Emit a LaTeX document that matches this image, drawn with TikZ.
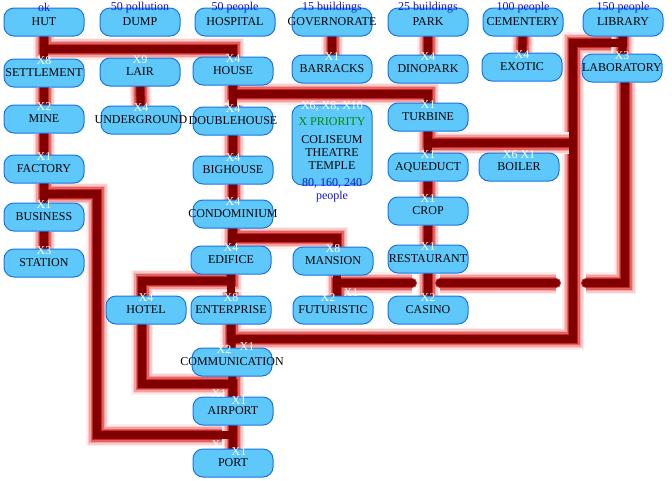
\documentclass[tikz,border=0pt]{standalone}
\usepackage{fontspec}
\setmainfont{Liberation Serif}
\usetikzlibrary{backgrounds}
\definecolor{boxfill}{RGB}{95,200,250}
\definecolor{boxline}{RGB}{25,115,230}
\definecolor{wire}{RGB}{128,0,0}
\definecolor{haloa}{RGB}{255,236,236}
\definecolor{halob}{RGB}{250,205,205}
\definecolor{haloc}{RGB}{242,160,160}
\definecolor{halod}{RGB}{228,100,100}
\definecolor{haloe}{RGB}{200,40,40}
\definecolor{note}{RGB}{20,20,205}
\definecolor{prio}{RGB}{0,140,0}

\newcommand\wide[1]{\makebox[0pt]{#1}}
% all connectors, drawn once as halo and once as core
\newcommand\wires[1]{%
  \draw[#1] (hut) -- (settlement);
  \draw[#1] (hut.south) -- ++(0,12) -| (house.north);
  \draw[#1] (settlement) -- (mine);
  \draw[#1] (mine) -- (factory);
  \draw[#1] (factory) -- (business);
  \draw[#1] (business) -- (station);
  \draw[#1] (factory.south) -- ++(0,10) -| (portbend) -| (port.north);
  \draw[#1] (lair) -- (underground);
  \draw[#1] (house) -- (doublehouse);
  \draw[#1] (house.south) -- ++(0,8) -| (turbine.north);
  \draw[#1] (doublehouse) -- (bighouse);
  \draw[#1] (bighouse) -- (condominium);
  \draw[#1] (condominium) -- (edifice);
  \draw[#1] (condominium.south) -- ++(0,9) -| ([xshift=4pt]mansion.north);
  \draw[#1] (edifice) -- (enterprise);
  \draw[#1] (edifice.south) -- ++(0,6) -| ([xshift=-4pt]hotel.north);
  \draw[#1] (enterprise) -- (communication);
  \draw[#1] (enterprise.south) -- ++(0,14) -| (libbend) -| (library.south);
  \draw[#1] (communication) -- (airport);
  \draw[#1] (airport) -- (port);
  \draw[#1] ([xshift=-4pt]hotel.south) -- ++(0,59) -| (airport.north);
  \draw[#1] (library) -- (laboratory);
  \draw[#1] (governorate) -- (barracks);
  \draw[#1] (park) -- (dinopark);
  \draw[#1] (cementery) -- (exotic);
  \draw[#1] (turbine) -- (aqueduct);
  \draw[#1] (turbine.south) |- (turbinejoin);
  \draw[#1] (aqueduct) -- (crop);
  \draw[#1] (crop) -- (restaurant);
  \draw[#1] (restaurant) -- (casino);
  \draw[#1] ([xshift=4pt]mansion.south) -- ([xshift=4pt]futuristic.north);
  \draw[#1] ([xshift=3pt]laboratory.south) |- (jumpa);
  \draw[#1] (jumpb) -- (jumpc);
  \draw[#1] (jumpd) -| ([xshift=4pt]futuristic.north);
}

\begin{document}
\begin{tikzpicture}[x=1pt, y=-1pt,
  every node/.style={font=\fontsize{12}{13}\selectfont},
  bld/.style={rectangle, rounded corners=10pt, draw=boxline, line width=1pt,
              fill=boxfill, minimum width=80pt, minimum height=28pt, inner sep=0pt},
  cnt/.style={text=white, anchor=center, yshift=-2pt, inner sep=0pt},
  req/.style={text=note, anchor=center, inner sep=0pt},
  halo/.style={line cap=round,
               preaction={draw=haloa, line width=22pt},
               preaction={draw=halob, line width=19pt},
               preaction={draw=haloc, line width=16pt},
               preaction={draw=halod, line width=13pt},
               draw=haloe, line width=10pt},
  core/.style={line cap=round, draw=wire, line width=8pt},
]
\useasboundingbox (0,0) rectangle (672,480);

% top row
\node[bld, label={[req]north:ok}]           (hut)         at (44,22)  {HUT};
\node[bld, label={[req]north:50 pollution}] (dump)        at (140,22) {DUMP};
\node[bld, label={[req]north:50 people}]    (hospital)    at (235,22) {HOSPITAL};
\node[bld, label={[req]north:15 buildings}] (governorate) at (332,22) {\wide{GOVERNORATE}};
\node[bld, label={[req]north:25 buildings}] (park)        at (428,22) {PARK};
\node[bld, label={[req]north:100 people}]   (cementery)   at (523,22) {CEMENTERY};
\node[bld, label={[req]north:150 people}]   (library)     at (623,22) {LIBRARY};

\node[bld, label={[cnt]north:X8}] (settlement) at (44,73)  {\wide{SETTLEMENT}};
\node[bld, label={[cnt]north:X9}] (lair)       at (140,72) {LAIR};
\node[bld, label={[cnt]north:X4}] (house)      at (233,71) {HOUSE};
\node[bld, label={[cnt]north:X1}] (barracks)   at (332,69) {BARRACKS};
\node[bld, label={[cnt]north:X4}] (dinopark)   at (428,69) {DINOPARK};
\node[bld, label={[cnt]north:X4}] (exotic)     at (522,67) {EXOTIC};
\node[bld, label={[cnt]north:X3}] (laboratory) at (622,68) {\wide{LABORATORY}};

\node[bld, label={[cnt]north:X2}] (mine)        at (44,119)  {MINE};
\node[bld, label={[cnt]north:X4}] (underground) at (141,120) {\wide{UNDERGROUND}};
\node[bld, label={[cnt]north:X4}] (doublehouse) at (233,121) {\wide{DOUBLEHOUSE}};
\node[bld, label={[cnt]north:X1}] (turbine)     at (428,117) {TURBINE};

% priority box
\node[bld, minimum height=80pt, label={[cnt]north:{X6, X8, X10}}] (coliseum) at (332,145) {};
\node[align=center] (coliseumtxt) at (332,144)
  {\textcolor{prio}{X PRIORITY}\\[5pt]COLISEUM\\THEATRE\\TEMPLE};
\node[align=center, text=note] (coliseumppl) at (332,190) {80, 160, 240\\people};

\node[bld, label={[cnt]north:X1}]    (factory)  at (44,169)  {FACTORY};
\node[bld, label={[cnt]north:X4}]    (bighouse) at (233,170) {BIGHOUSE};
\node[bld, label={[cnt]north:X1}]    (aqueduct) at (428,167) {AQUEDUCT};
\node[bld, label={[cnt]north:X6 X1}] (boiler)   at (519,167) {BOILER};

\node[bld, label={[cnt]north:X1}] (business)    at (44,217)  {BUSINESS};
\node[bld, label={[cnt]north:X4}] (condominium) at (233,214) {\wide{CONDOMINIUM}};
\node[bld, label={[cnt]north:X1}] (crop)        at (428,211) {CROP};

\node[bld, label={[cnt]north:X3}] (station)    at (44,263)  {STATION};
\node[bld, label={[cnt]north:X4}] (edifice)    at (231,260) {EDIFICE};
\node[bld, label={[cnt]north:X8}] (mansion)    at (333,261) {MANSION};
\node[bld, label={[cnt]north:X1}] (restaurant) at (428,259) {\wide{RESTAURANT}};

\node[bld, label={[cnt]north:X4}] (hotel)      at (146,310) {HOTEL};
\node[bld, label={[cnt]north:X8}] (enterprise) at (231,310) {\wide{ENTERPRISE}};
\node[bld, label={[cnt,xshift=-5pt]north:X2},
           label={[cnt,xshift=18pt,yshift=5pt]north:X1}] (futuristic) at (333,310) {FUTURISTIC};
\node[bld, label={[cnt]north:X2}] (casino)     at (428,310) {CASINO};

\node[bld, label={[cnt,xshift=-8pt]north:X2},
           label={[cnt,xshift=15pt,yshift=3pt]north:X1}] (communication) at (232,362) {\wide{COMMUNICATION}};
\node[bld, label={[cnt,xshift=-14pt,yshift=5pt]north:X1},
           label={[cnt,xshift=6pt,yshift=-2pt]north:X1}] (airport) at (233,411) {AIRPORT};
\node[bld, label={[cnt,xshift=-14pt,yshift=6pt]north:X1},
           label={[cnt,xshift=6pt,yshift=-1pt]north:X1}] (port) at (233,463) {PORT};

% bends and line jumps
\coordinate (portbend)    at (97,435);
\coordinate (libbend)     at (573,43);
\coordinate (turbinejoin) at (573,143);
\coordinate (jumpa) at (586,283);
\coordinate (jumpb) at (556,283);
\coordinate (jumpc) at (440,283);
\coordinate (jumpd) at (412,283);

\begin{scope}[on background layer]
  \wires{halo}
  \wires{core}
\end{scope}
\end{tikzpicture}
\end{document}
